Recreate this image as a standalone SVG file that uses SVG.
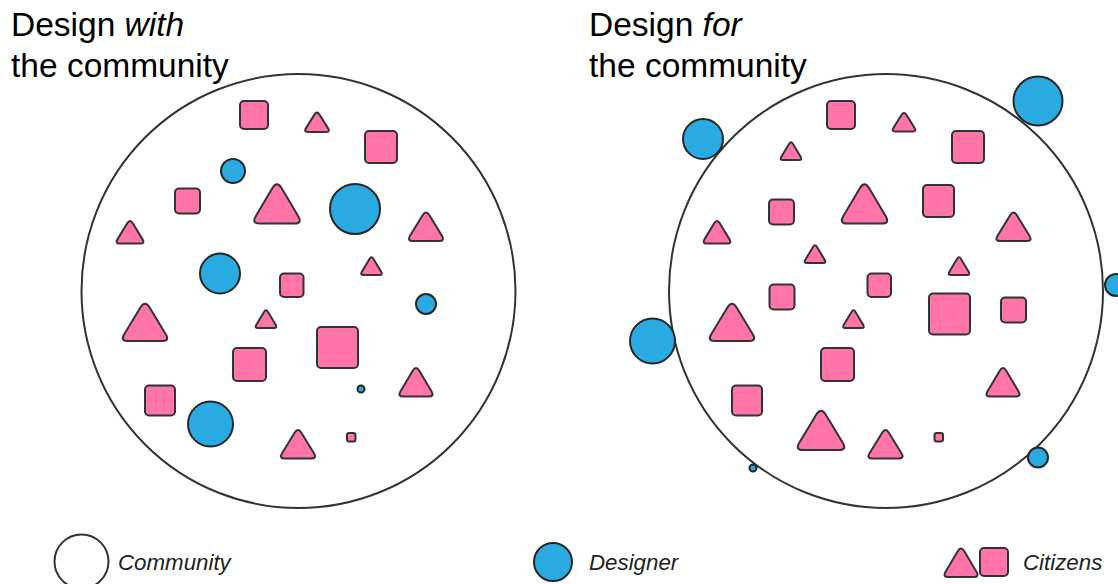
<svg xmlns="http://www.w3.org/2000/svg" xmlns:xlink="http://www.w3.org/1999/xlink" width="1118" height="584" viewBox="0 0 1118 584">
<style>
text{font-family:"Liberation Sans",Arial,sans-serif;fill:#000}
.t{font-size:33.500px}
.l{font-size:22.300px;font-style:italic;fill:#222}
.i{font-style:italic}
.big{fill:#fff;stroke:#333;stroke-width:2}
.c{fill:#29abe2;stroke:#262626;stroke-width:2}
.s{fill:#ff75a8;stroke:#333;stroke-width:2}
.p{fill:#ff75a8;stroke:#333;stroke-width:2;vector-effect:non-scaling-stroke}
</style>
<defs><path id="tri" class="p" d="M-.107-.38Q0-.58.107-.38L.483.32Q.58.5.40.5L-.40.5Q-.58.5-.483.32Z"/></defs>
<g id="connectors"/>
<g id="title-with"><text class="t" x="11" y="36">Design <tspan class="i">with</tspan></text><text class="t" x="11" y="77">the community</text></g>
<g id="title-for"><text class="t" x="589" y="36">Design <tspan class="i">for</tspan></text><text class="t" x="589" y="77">the community</text></g>
<g id="community-left"><circle class="big" cx="298.500" cy="291" r="217"/></g>
<g id="community-right"><circle class="big" cx="886" cy="291" r="217"/></g>
<g id="left-citizens">
<g id="ls1"><rect class="s" x="240" y="101" width="28" height="28" rx="4"/></g>
<g id="ls2"><rect class="s" x="365" y="131" width="32" height="32" rx="4"/></g>
<g id="ls3"><rect class="s" x="175" y="188.500" width="25" height="25" rx="4"/></g>
<g id="ls4"><rect class="s" x="280" y="273.500" width="23.500" height="23.500" rx="4"/></g>
<g id="ls5"><rect class="s" x="317" y="327" width="41" height="41" rx="4"/></g>
<g id="ls6"><rect class="s" x="233" y="348" width="33" height="33" rx="4"/></g>
<g id="ls7"><rect class="s" x="145" y="385.500" width="30" height="30" rx="4"/></g>
<g id="ls8"><rect class="s" x="347" y="433" width="8.500" height="8.500" rx="2"/></g>
<g id="lt1"><use href="#tri" transform="translate(317 122) scale(23 20)"/></g>
<g id="lt2"><use href="#tri" transform="translate(277 203.500) scale(44 40)"/></g>
<g id="lt3"><use href="#tri" transform="translate(130 232) scale(26 23)"/></g>
<g id="lt4"><use href="#tri" transform="translate(426 226.500) scale(33 29)"/></g>
<g id="lt5"><use href="#tri" transform="translate(371.500 266) scale(20 18)"/></g>
<g id="lt6"><use href="#tri" transform="translate(266 319) scale(20 18)"/></g>
<g id="lt7"><use href="#tri" transform="translate(145 322) scale(43 38)"/></g>
<g id="lt8"><use href="#tri" transform="translate(416 382) scale(32 29)"/></g>
<g id="lt9"><use href="#tri" transform="translate(298 444) scale(33 29)"/></g>
</g>
<g id="left-designers">
<g id="lc1"><circle class="c" cx="233" cy="171" r="12"/></g>
<g id="lc2"><circle class="c" cx="355" cy="209" r="25"/></g>
<g id="lc3"><circle class="c" cx="220" cy="273.500" r="20"/></g>
<g id="lc4"><circle class="c" cx="426" cy="304" r="10"/></g>
<g id="lc5"><circle class="c" cx="361" cy="389" r="3.500"/></g>
<g id="lc6"><circle class="c" cx="210.500" cy="424" r="22.500"/></g>
</g>
<g id="right-citizens">
<g id="rs1"><rect class="s" x="827" y="101" width="28" height="28" rx="4"/></g>
<g id="rs2"><rect class="s" x="952" y="131" width="32" height="32" rx="4"/></g>
<g id="rs3"><rect class="s" x="769" y="199.500" width="25" height="25" rx="4"/></g>
<g id="rs4"><rect class="s" x="923" y="185" width="31" height="32" rx="4"/></g>
<g id="rs5"><rect class="s" x="867.500" y="273.500" width="23.500" height="23.500" rx="4"/></g>
<g id="rs6"><rect class="s" x="769.500" y="284.500" width="25" height="25" rx="4"/></g>
<g id="rs7"><rect class="s" x="1001" y="297.500" width="25" height="25" rx="4"/></g>
<g id="rs8"><rect class="s" x="929" y="293.500" width="41" height="41" rx="4"/></g>
<g id="rs9"><rect class="s" x="821" y="348" width="33" height="33" rx="4"/></g>
<g id="rs10"><rect class="s" x="732" y="385.500" width="30" height="30" rx="4"/></g>
<g id="rs11"><rect class="s" x="934.500" y="433" width="8.500" height="8.500" rx="2"/></g>
<g id="rt1"><use href="#tri" transform="translate(904 122) scale(22 19)"/></g>
<g id="rt2"><use href="#tri" transform="translate(791 151) scale(20 18)"/></g>
<g id="rt3"><use href="#tri" transform="translate(864.500 203.500) scale(44 40)"/></g>
<g id="rt4"><use href="#tri" transform="translate(717 232) scale(26 23)"/></g>
<g id="rt5"><use href="#tri" transform="translate(1013.500 226.500) scale(33 29)"/></g>
<g id="rt6"><use href="#tri" transform="translate(815 254) scale(20 18)"/></g>
<g id="rt7"><use href="#tri" transform="translate(959 266) scale(20 18)"/></g>
<g id="rt8"><use href="#tri" transform="translate(732 322) scale(43 38)"/></g>
<g id="rt9"><use href="#tri" transform="translate(853.500 319) scale(20 18)"/></g>
<g id="rt10"><use href="#tri" transform="translate(1003 382) scale(32 29)"/></g>
<g id="rt11"><use href="#tri" transform="translate(821 430) scale(45 40)"/></g>
<g id="rt12"><use href="#tri" transform="translate(885.500 444) scale(33 29)"/></g>
</g>
<g id="right-designers">
<g id="rc1"><circle class="c" cx="1038" cy="101" r="24.500"/></g>
<g id="rc2"><circle class="c" cx="703" cy="139" r="20"/></g>
<g id="rc3"><circle class="c" cx="1116" cy="285" r="11"/></g>
<g id="rc4"><circle class="c" cx="652.500" cy="341" r="22.500"/></g>
<g id="rc5"><circle class="c" cx="1038" cy="457.500" r="10"/></g>
<g id="rc6"><circle class="c" cx="753" cy="468" r="3.500"/></g>
</g>
<g id="legend-community"><circle class="big" cx="81.500" cy="561.500" r="27"/><text class="l" x="118" y="570">Community</text></g>
<g id="legend-designer"><circle class="c" cx="553" cy="562" r="19"/><text class="l" x="589" y="570">Designer</text></g>
<g id="legend-citizens"><use href="#tri" transform="translate(961 562.500) scale(32 29)"/><rect class="s" x="980" y="548" width="28" height="28" rx="4"/><text class="l" x="1023" y="570">Citizens</text></g>
</svg>
